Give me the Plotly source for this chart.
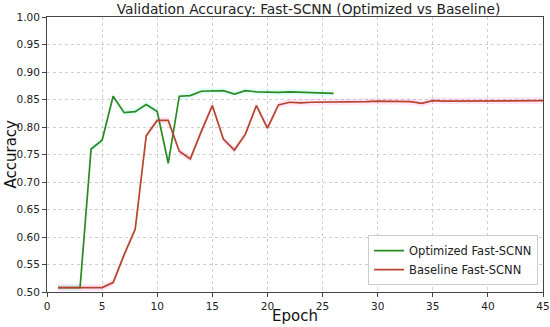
import plotly.graph_objects as go

epochs_opt = list(range(1, 27))
acc_opt = [0.508, 0.508, 0.508, 0.760, 0.776, 0.856, 0.826, 0.828, 0.841, 0.828,
           0.734, 0.856, 0.857, 0.865, 0.865, 0.866, 0.860, 0.866, 0.864, 0.863,
           0.863, 0.864, 0.863, 0.863, 0.862, 0.861]

epochs_base = list(range(1, 46))
acc_base = [0.508, 0.508, 0.508, 0.508, 0.508, 0.517, 0.568, 0.614, 0.784, 0.812,
            0.812, 0.756, 0.742, 0.792, 0.839, 0.778, 0.758, 0.787, 0.839, 0.798,
            0.840, 0.845, 0.844, 0.845, 0.845, 0.846, 0.846, 0.846, 0.846, 0.847,
            0.847, 0.847, 0.846, 0.843, 0.848, 0.847, 0.847, 0.847, 0.847, 0.847,
            0.848, 0.848, 0.848, 0.848, 0.848]

x_ticks = [0, 5, 10, 15, 20, 25, 30, 35, 40, 45]
y_ticks = [0.50, 0.55, 0.60, 0.65, 0.70, 0.75, 0.80, 0.85, 0.90, 0.95, 1.00]

band = 0.006
green = '#2a8a22'
red = '#b5452b'

fig = go.Figure()

def add_band(x, y, color):
    upper = [v + band for v in y]
    lower = [v - band for v in y]
    fig.add_trace(go.Scatter(x=x + x[::-1], y=upper + lower[::-1], fill='toself',
                             fillcolor=color, line=dict(width=0), hoverinfo='skip',
                             showlegend=False, mode='lines'))

add_band(epochs_opt, acc_opt, 'rgba(0,255,200,0.10)')
add_band(epochs_base, acc_base, 'rgba(255,0,180,0.10)')

fig.add_trace(go.Scatter(x=epochs_opt, y=acc_opt, mode='lines', name='Optimized Fast-SCNN',
                         line=dict(color=green, width=1.7)))
fig.add_trace(go.Scatter(x=epochs_base, y=acc_base, mode='lines', name='Baseline Fast-SCNN',
                         line=dict(color=red, width=1.7)))

L, R, T, B = 47, 7, 17, 35
W, H = 550, 327
plot_h = H - T - B
plot_w = W - L - R

fig.update_layout(
    width=W, height=H,
    margin=dict(l=L, r=R, t=T, b=B, autoexpand=False),
    paper_bgcolor='white', plot_bgcolor='white',
    font=dict(family='DejaVu Sans', color='#222'),
    title=dict(text='Validation Accuracy: Fast-SCNN (Optimized vs Baseline)',
               x=308.5 / W, xanchor='center', y=1 - 9 / H, yanchor='middle',
               font=dict(size=13.8, color='#222')),
    legend=dict(x=0.99, y=0.025, xanchor='right', yanchor='bottom',
                bgcolor='rgba(255,255,255,0.9)', bordercolor='#ccc', borderwidth=1,
                font=dict(size=11.5, color='#222'), tracegroupgap=0,
                itemwidth=30),
    showlegend=True,
    annotations=[
        dict(text='Epoch', x=0.5, xref='paper', y=-(316 - (H - B)) / plot_h, yref='paper',
             showarrow=False, font=dict(size=15, color='#111'),
             yanchor='middle', xanchor='center'),
        dict(text='Accuracy', x=-(L - 10) / plot_w, xref='paper', y=0.5, yref='paper',
             showarrow=False, font=dict(size=15, color='#111'), textangle=-90,
             xanchor='center', yanchor='middle'),
    ],
)

fig.update_xaxes(range=[0, 45], tickvals=x_ticks, ticktext=[str(t) for t in x_ticks],
                 showgrid=True, gridcolor='#d0d0d0', griddash='dot', gridwidth=1,
                 showline=True, linecolor='#444', linewidth=1, mirror=True,
                 ticks='outside', ticklen=4, tickcolor='#444', automargin=False,
                 tickfont=dict(size=10.5), zeroline=False)
fig.update_yaxes(range=[0.5, 1.0], tickvals=y_ticks, ticktext=[f'{t:.2f}' for t in y_ticks],
                 showgrid=True, gridcolor='#d0d0d0', griddash='dot', gridwidth=1,
                 showline=True, linecolor='#444', linewidth=1, mirror=True,
                 ticks='outside', ticklen=4, tickcolor='#444', automargin=False,
                 tickfont=dict(size=10.5), zeroline=False)

fig.write_html('out.html', config={'displayModeBar': False},
               post_script="document.body.style.margin='0';document.body.style.padding='0';")
